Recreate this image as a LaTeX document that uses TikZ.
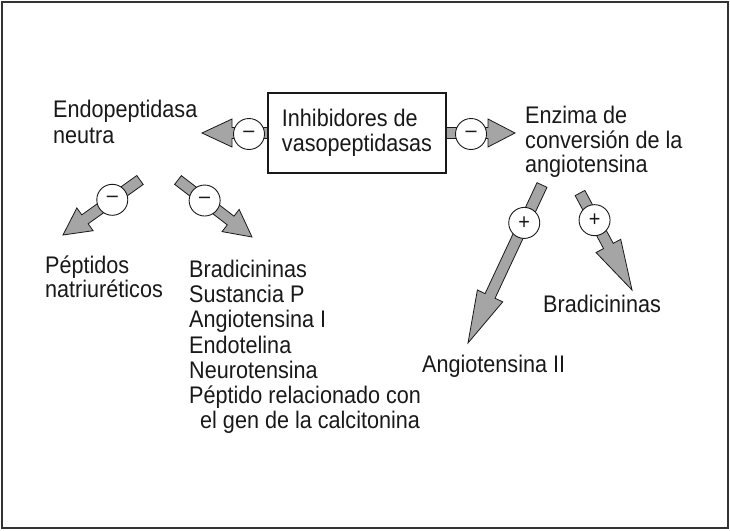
\documentclass[tikz,border=0pt]{standalone}
\usepackage{fontspec}
\setmainfont{Liberation Sans}[FakeStretch=0.9]
\usetikzlibrary{calc}
\definecolor{arrowgray}{RGB}{165,165,165}
\definecolor{ink}{RGB}{25,25,25}
\definecolor{framegray}{RGB}{50,50,50}
\tikzset{
  txt/.style={anchor=base west, inner sep=0pt, font=\fontsize{24}{25}\selectfont, text=ink},
  box/.style={draw=ink, line width=1.1pt, fill=white, minimum width=178pt, minimum height=80pt,
    inner sep=0pt, align=left, font=\fontsize{24}{25}\selectfont, text=ink},
  sign/.style={circle, draw=ink, line width=0.9pt, fill=white, minimum size=31pt, inner sep=0pt,
    font=\fontsize{22}{22}\selectfont, text=ink},
  fatarrowstyle/.style={fill=arrowgray, draw=ink, line width=0.8pt, line join=miter},
}
% name, tail, tip, head length
\newcommand{\fatarrow}[4]{%
  \coordinate (#1-h) at ($(#3)!#4!(#2)$);
  \draw[fatarrowstyle]
    ($(#2)!5.5pt!90:(#3)$) -- ($(#1-h)!5.5pt!90:(#3)$) -- ($(#1-h)!14pt!90:(#3)$) -- (#3)
    -- ($(#1-h)!14pt!-90:(#3)$) -- ($(#1-h)!5.5pt!-90:(#3)$) -- ($(#2)!5.5pt!-90:(#3)$) -- cycle;
}
\begin{document}
\begin{tikzpicture}[x=1pt,y=-1pt]
\useasboundingbox (0,0) rectangle (730,530);
\draw[framegray, line width=2pt] (1.5,1.5) rectangle (728,528);

% central box
\node[box] (inh) at (357,133) {Inhibidores de\\vasopeptidasas};

% free ends
\coordinate (tipL) at (202,133);
\coordinate (tipR) at (515,133);
\coordinate (tA) at (140,180);
\coordinate (pA) at (63,235);
\coordinate (tB) at (178,180);
\coordinate (pB) at (252,237);
\coordinate (tC) at (542,185);
\coordinate (pC) at (468,343);
\coordinate (tD) at (580,193);
\coordinate (pD) at (632,290);

% arrows
\fatarrow{aL}{inh.west}{tipL}{30pt}
\fatarrow{aR}{inh.east}{tipR}{27pt}
\fatarrow{aA}{tA}{pA}{27pt}
\fatarrow{aB}{tB}{pB}{27pt}
\fatarrow{aC}{tC}{pC}{52pt}
\fatarrow{aD}{tD}{pD}{50pt}

% signs
\node[sign] (sL) at (249,134) {–};
\node[sign] (sR) at (471,134) {–};
\node[sign] (sA) at ($(tA)!0.36!(pA)$) {–};
\node[sign] (sB) at ($(tB)!0.36!(pB)$) {–};
\node[sign] (sC) at ($(tC)!0.24!(pC)$) {+};
\node[sign] (sD) at ($(tD)!0.28!(pD)$) {+};

% texts
\node[txt] (endo1) at (53,117) {Endopeptidasa};
\node[txt] (endo2) at (53,143) {neutra};
\node[txt] (enz1) at (525,123) {Enzima de};
\node[txt] (enz2) at (525,148) {conversión de la};
\node[txt] (enz3) at (525,172) {angiotensina};
\node[txt] (pep1) at (45,273) {Péptidos};
\node[txt] (pep2) at (45,297) {natriuréticos};
\node[txt] (l1) at (189,277) {Bradicininas};
\node[txt] (l2) at (189,302) {Sustancia P};
\node[txt] (l3) at (189,327) {Angiotensina I};
\node[txt] (l4) at (189,353) {Endotelina};
\node[txt] (l5) at (189,378) {Neurotensina};
\node[txt] (l6) at (189,403) {Péptido relacionado con};
\node[txt] (l7) at (200,428) {el gen de la calcitonina};
\node[txt] (brad) at (543,312) {Bradicininas};
\node[txt] (ang2) at (422,372) {Angiotensina II};
\end{tikzpicture}
\end{document}
